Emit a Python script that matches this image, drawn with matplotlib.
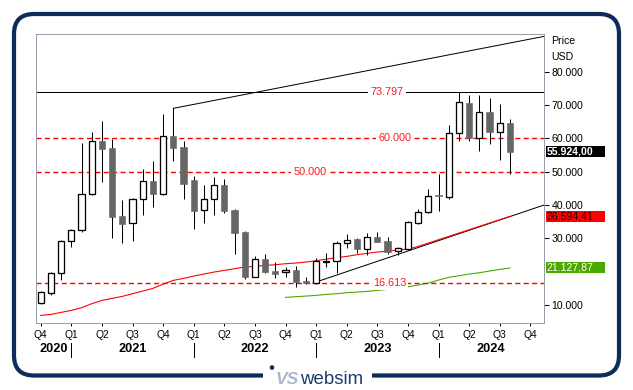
import numpy as np
import pandas as pd
import matplotlib
matplotlib.use("Agg")
import matplotlib.pyplot as plt
from matplotlib.patches import FancyBboxPatch, Rectangle, Circle
from matplotlib.transforms import blended_transform_factory

plt.rcParams['font.family'] = ['Liberation Sans', 'DejaVu Sans']

# ---------------- data (USD thousands) ----------------
months = pd.period_range('2020-10', '2024-08', freq='M')
opens = [10.6, 13.5, 19.5, 29.2, 32.4, 43.2, 59.1, 57.0, 36.7, 34.5, 41.7, 47.2,
         43.4, 60.6, 57.4, 47.5, 38.4, 41.7, 45.9, 38.5, 31.9, 18.5, 23.7, 20.2,
         19.9, 20.5, 17.3, 16.5, 23.0, 23.1, 28.5, 29.8, 26.9, 30.3, 29.2, 26.2,
         26.7, 34.7, 37.8, 42.8, 42.3, 61.5, 70.5, 60.0, 67.8, 62.0, 64.6]
highs = [14.1, 19.8, 29.5, 32.8, 58.5, 61.8, 65.2, 59.7, 41.5, 42.2, 50.8, 53.2,
         67.3, 69.0, 59.2, 48.7, 46.0, 48.3, 47.7, 38.7, 32.1, 24.7, 25.3, 22.8,
         21.5, 21.7, 18.5, 24.0, 25.5, 29.3, 31.3, 30.0, 31.7, 31.8, 30.5, 27.5,
         35.1, 38.7, 44.8, 49.2, 64.0, 73.797, 73.0, 73.0, 72.0, 70.3, 65.8]
lows = [10.3, 13.1, 17.5, 27.5, 32.0, 43.0, 47.0, 30.0, 28.7, 29.3, 37.0, 39.5,
        43.1, 53.3, 41.9, 32.9, 34.5, 37.1, 37.7, 25.3, 17.7, 18.3, 19.5, 18.2,
        18.3, 15.5, 16.2, 16.3, 21.5, 19.5, 27.0, 25.7, 25.0, 28.9, 25.3, 25.0,
        26.5, 34.2, 37.5, 38.3, 41.9, 59.3, 59.2, 56.3, 58.3, 53.5, 49.3]
closes = [13.8, 19.5, 29.2, 32.4, 43.2, 59.1, 56.9, 36.5, 34.4, 41.8, 47.2, 43.4,
          60.6, 57.2, 46.4, 38.3, 41.7, 45.9, 38.3, 31.7, 18.5, 23.7, 20.0, 19.4,
          20.5, 17.0, 16.5, 23.1, 23.2, 28.7, 29.5, 26.9, 30.3, 29.0, 26.0, 27.0,
          34.9, 37.8, 42.7, 42.6, 61.5, 70.8, 60.0, 67.8, 62.0, 64.6, 55.924]
red_avg = [6.9, 7.2, 7.8, 8.4, 9.2, 10.4, 11.4, 12.0, 12.6, 13.4, 14.2, 15.0,
           16.3, 17.4, 18.0, 18.7, 19.3, 19.9, 20.4, 20.9, 21.4, 21.6, 21.9, 22.1,
           22.4, 22.6, 22.9, 23.3, 23.8, 24.2, 24.6, 25.1, 25.5, 25.9, 26.2, 26.5,
           26.8, 27.6, 28.6, 29.6, 30.6, 31.6, 32.6, 33.6, 34.6, 35.6, 36.59441]
green_avg = [np.nan] * 24 + [12.3, 12.5, 12.7, 12.9, 13.2, 13.4, 13.7, 13.9, 14.1,
                             14.4, 14.7, 15.0, 15.5, 16.0, 16.6, 17.5, 18.3, 18.8,
                             19.3, 19.7, 20.2, 20.7, 21.12787]
levels = [73.797, 60.0, 50.0, 16.613]
level_solid = [True, False, False, False]
level_label_month = [33.95, 34.7, 26.4, 34.2]   # label placement (month index)
# trend lines anchored on months (index, value)
upper_trend = [(13, 69.0), (46, 88.6)]
lower_trend = [(27, 16.92), (46, 36.55)]
lower_trend_start = 16.613

W, H = 633, 390
PX = 72 / 100.0
NAVY = '#0c2c5a'

fig = plt.figure(figsize=(W / 100, H / 100), dpi=100)

# ---------------- frame / logo ----------------
bg = fig.add_axes([0, 0, 1, 1])
bg.set_xlim(0, W)
bg.set_ylim(H, 0)
bg.axis('off')
bg.set_zorder(0)
bg.add_patch(FancyBboxPatch((14, 14), 605, 361.5,
                            boxstyle='round,pad=0,rounding_size=20',
                            fill=False, ec=NAVY, lw=4.2 * PX))
bg.add_patch(Rectangle((263, 368), 109, 16, fc='white', ec='none'))
bg.add_patch(Circle((272, 367.5), 2.3, fc=NAVY, ec='none'))
bg.text(276, 384, 'VS', fontsize=12.5, fontweight='bold', style='italic',
        color='#a9b7ca', va='baseline', ha='left')
bg.text(300, 384, 'websim', fontsize=13.4, color='#1a3c6e', va='baseline', ha='left')

# ---------------- main axes ----------------
x0, x1, y0, y1 = 35.7, 544.0, 34.0, 323.3
ax = fig.add_axes([x0 / W, (H - y1) / H, (x1 - x0) / W, (y1 - y0) / H])
ax.set_zorder(1)
ax.set_xlim(-0.49, 49.34)
ax.set_ylim(4.53, 91.3)

idx = np.arange(len(months))
o = np.array(opens); c = np.array(closes)
hi = np.array(highs); lo = np.array(lows)

# lines
ax.plot(idx, red_avg, color='#ff0000', lw=1.1 * PX, zorder=2)
ax.plot(idx, green_avg, color='#4aa800', lw=1.1 * PX, zorder=2)

xl = ax.get_xlim()
for v, solid, lm in zip(levels, level_solid, level_label_month):
    if solid:
        ax.axhline(v, color='black', lw=1.0 * PX, zorder=2)
    else:
        ax.axhline(v, color='#ff0000', lw=1.4 * PX, ls=(0, (3.6, 2.4)), zorder=2)
    ax.text(lm, v, f"{v:.3f}", color='#ff1a1a', fontsize=7.8, ha='center',
            va='center', zorder=5,
            bbox=dict(boxstyle='square,pad=0.2', fc='white', ec='none'))

(ua, uva), (ub, uvb) = upper_trend
us = (uvb - uva) / (ub - ua)
ax.plot([ua, xl[1]], [uva, uva + us * (xl[1] - ua)], color='black', lw=1.0 * PX, zorder=2.5)
(la, lva), (lb, lvb) = lower_trend
ls_ = (lvb - lva) / (lb - la)
lstart = la + (lower_trend_start - lva) / ls_
ax.plot([lstart, xl[1]], [lower_trend_start, lva + ls_ * (xl[1] - la)],
        color='black', lw=1.0 * PX, zorder=1.9)

# candles
ax.vlines(idx, lo, hi, color='black', lw=1.0 * PX, zorder=3)
up = c >= o
bottom = np.minimum(o, c)
height = np.maximum(np.abs(c - o), 0.35)
ax.bar(idx[up], height[up], bottom=bottom[up], width=0.6, color='white',
       edgecolor='black', lw=1.3 * PX, zorder=4)
ax.bar(idx[~up], height[~up], bottom=bottom[~up], width=0.6, color='#666666',
       edgecolor='#666666', lw=0.6 * PX, zorder=4)

# spines
for s in ax.spines.values():
    s.set_color('#9b9bab')
    s.set_linewidth(1.0 * PX)

# y axis (right)
yt = [10, 30, 40, 50, 60, 70, 80]
ax.yaxis.tick_right()
ax.set_yticks(yt)
ax.set_yticklabels([f"{int(v * 1000):,}".replace(',', '.') for v in yt])
ax.tick_params(axis='y', length=5 * PX, width=1.0 * PX, pad=2.5 * PX,
               labelsize=7.6, colors='black')

# x axis (quarters)
quarters = pd.period_range('2020Q4', '2024Q4', freq='Q')
first = months[0]
q_pos = [(q.start_time.year - first.year) * 12 + q.start_time.month - first.month for q in quarters]
ax.set_xticks(q_pos)
ax.set_xticklabels([f"Q{q.quarter}" for q in quarters])
ax.tick_params(axis='x', length=3 * PX, width=1.0 * PX, pad=3.5 * PX, labelsize=7.4,
               colors='black')

# years
years = [2020, 2021, 2022, 2023, 2024]
bt = blended_transform_factory(ax.transData, ax.transAxes)
def ay(py):
    return (y1 - py) / (y1 - y0)
for yr in years:
    start = (yr - first.year) * 12 + 1 - first.month
    end = start + 12
    a = max(start, xl[0]); b = min(end, xl[1])
    ax.text((a + b) / 2, ay(349.5), str(yr), transform=bt, ha='center', va='center',
            fontsize=9.2, fontweight='bold', clip_on=False)
    if start > xl[0]:
        ax.plot([start, start], [ay(342.7), ay(356.7)], transform=bt, color='black',
                lw=1.0 * PX, clip_on=False)

# right side labels
rt = blended_transform_factory(ax.transAxes, ax.transData)
ax.text(1 + 7.5 / (x1 - x0), ay(41.5), 'Price', transform=ax.transAxes, fontsize=7.6,
        ha='left', va='center')
ax.text(1 + 7.5 / (x1 - x0), ay(57), 'USD', transform=ax.transAxes, fontsize=7.6,
        ha='left', va='center')

def fmt_val(v):
    s = f"{v * 1000:,.2f}"
    return s.replace(',', 'X').replace('.', ',').replace('X', '.')

boxes = [(closes[-1], 'black', 'white', 'bold'),
         (red_avg[-1], '#ff0000', '#1a0000', 'normal'),
         (green_avg[-1], '#4aa800', 'white', 'normal')]
bw = 59 / (x1 - x0)
bh = 11 / ((y1 - y0) / (91.3 - 4.53))
for v, fc, tc, fw in boxes:
    ax.add_patch(Rectangle((1 + 1.5 / (x1 - x0), v - bh / 2), bw, bh, transform=rt,
                           fc=fc, ec='none', clip_on=False, zorder=6))
    ax.text(1 + 2.5 / (x1 - x0), v, fmt_val(v), transform=rt, color=tc, fontsize=7.6,
            fontweight=fw, ha='left', va='center', zorder=7, clip_on=False)

fig.savefig('out.png', dpi=100)
